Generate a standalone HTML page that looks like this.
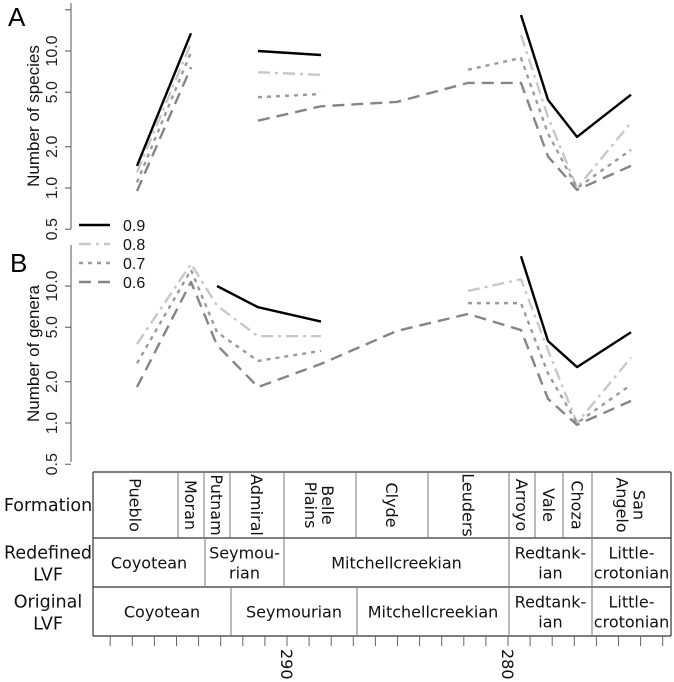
<!DOCTYPE html>
<html><head><meta charset="utf-8"><style>
html,body{margin:0;padding:0;background:#fff;}
svg{display:block;font-family:"DejaVu Sans","Liberation Sans",sans-serif;}
</style></head><body>
<svg id="chart" width="674" height="682" viewBox="0 0 674 682" xmlns="http://www.w3.org/2000/svg">
<g id="table"></g>
<g id="plots"></g>
</svg>
<script>
const formations = ["Pueblo","Moran","Putnam","Admiral","Belle Plains","Clyde","Leuders","Arroyo","Vale","Choza","San Angelo"];
const pointX = [137,191,217,258,321,397,468,521,548,577,631];
const NA = null;
const speciesS09 = [1.45,13.5,NA,10,9.35,NA,NA,18.3,4.4,2.36,4.8];
const speciesS08 = [1.3,11.4,NA,7.0,6.7,NA,NA,13.1,3.3,1.0,3.0];
const speciesS07 = [1.1,9.8,NA,4.6,4.85,NA,7.3,8.9,2.5,1.0,1.9];
const speciesS06 = [0.95,7.6,NA,3.1,3.95,4.25,5.85,5.85,1.7,0.97,1.45];
const generaS09 = [NA,NA,10,7.0,5.5,NA,NA,16.5,3.97,2.56,4.6];
const generaS08 = [3.77,14.5,7.2,4.3,4.3,NA,9.2,11.2,3.4,1.0,3.0];
const generaS07 = [2.73,13.1,4.6,2.84,3.36,NA,7.5,7.5,2.3,1.0,1.9];
const generaS06 = [1.83,10.7,3.7,1.83,2.7,4.7,6.25,4.77,1.5,0.97,1.45];
const yTicks = [0.5,1.0,2.0,5.0,10.0];
const yTickLabels = ["0.5","1.0","2.0","5.0","10.0"];
const timeTickLabels = ["290","280"];
const timeTickValues = [290,280];

const NS="http://www.w3.org/2000/svg";
function mk(tag,attrs,parent,txt){const e=document.createElementNS(NS,tag);for(const k in attrs)e.setAttribute(k,attrs[k]);if(txt!==undefined)e.textContent=txt;parent.appendChild(e);return e;}
const plots=document.getElementById('plots');
const table=document.getElementById('table');
const axisX=71;
function yScale(ref10){return v=>ref10-(Math.log10(v)-1)*137;}
const panels=[
 {name:'species',ref:51,top:3,bottom:229,topTick:20,label:'A',lx:8,ly:26,title:'Number of species',series:[speciesS09,speciesS08,speciesS07,speciesS06]},
 {name:'genera',ref:286,top:245,bottom:462,topTick:null,label:'B',lx:10,ly:272,title:'Number of genera',series:[generaS09,generaS08,generaS07,generaS06]}
];
const styles=[
 {c:'#000',d:'',w:2.4,n:'0.9'},
 {c:'#c8c8c8',d:'12,5,3,5',w:2.4,n:'0.8'},
 {c:'#9a9a9a',d:'4,5',w:2.4,n:'0.7'},
 {c:'#858585',d:'12,7',w:2.4,n:'0.6'}
];
panels.forEach(p=>{
 const y=yScale(p.ref);
 const g=mk('g',{},plots);
 
 
 const ax=mk('line',{x1:axisX,x2:axisX,y1:p.top,y2:p.bottom,stroke:'#555','stroke-width':1},g);
 
 
 const tvals=yTicks.slice(); if(p.topTick)tvals.push(p.topTick);
 tvals.forEach((t,i)=>{
  const ty=y(t);
  const tk=mk('line',{x1:axisX-6,x2:axisX,y1:ty,y2:ty,stroke:'#555','stroke-width':1},g);
  
  
  if(i<yTickLabels.length){
   const tl=mk('text',{x:0,y:0,transform:`translate(57,${ty}) rotate(-90)`,'text-anchor':'middle','font-size':16,fill:'#222','font-family':'Liberation Sans, sans-serif'},g,yTickLabels[i]);
   
   
  }
 });
 const tt=mk('text',{x:0,y:0,transform:`translate(39,${(p.top+p.bottom)/2}) rotate(-90)`,'text-anchor':'middle','font-size':17,fill:'#111','font-family':'Liberation Sans, sans-serif'},g,p.title);
 
 
 const pl=mk('text',{x:p.lx,y:p.ly,'font-size':26,fill:'#000','font-family':'Liberation Sans, sans-serif'},g,p.label);
 
 
 p.series.forEach((s,si)=>{
  let segs=[],cur=[];
  s.forEach((v,i)=>{if(v===null){if(cur.length)segs.push(cur);cur=[];}else cur.push([pointX[i],y(v)]);});
  if(cur.length)segs.push(cur);
  segs.forEach(seg=>{
   if(seg.length<2)return;
   const st=styles[si];
   const pth=mk('polyline',{points:seg.map(q=>q.join(',')).join(' '),fill:'none',stroke:st.c,'stroke-width':st.w,'stroke-dasharray':st.d,'stroke-linejoin':'round'},g);
   
   
  });
 });
});
// legend
const lg=mk('g',{},plots);


styles.forEach((st,i)=>{
 const ly=225+i*19;
 const ln=mk('line',{x1:79,x2:110,y1:ly,y2:ly,stroke:st.c,'stroke-width':st.w,'stroke-dasharray':st.d},lg);
 
 
 const lt=mk('text',{x:123,y:ly+6,'font-size':16,fill:'#111','font-family':'Liberation Sans, sans-serif'},lg,st.n);
 
 
});
// table
const L=93,R=671,T1=472,T2=538,T3=587,T4=636;
const rowLines=[T1,T2,T3,T4];
rowLines.forEach(ry=>{const l=mk('line',{x1:L,x2:R,y1:ry,y2:ry,stroke:'#333','stroke-width':1.2},table);});
[L,R].forEach(x=>{const l=mk('line',{x1:x,x2:x,y1:T1,y2:T4,stroke:'#333','stroke-width':1.2},table);});
const fBounds=[93,178,204,230,284,356,428,509,535,563,592,671];
fBounds.slice(1,-1).forEach(x=>{const l=mk('line',{x1:x,x2:x,y1:T1,y2:T2,stroke:'#777','stroke-width':1},table);});
formations.forEach((f,i)=>{
 const cx=(fBounds[i]+fBounds[i+1])/2, cy=(T1+T2)/2;
 const parts=f.split(' ');
 parts.forEach((pt,j)=>{
  const off=parts.length===1?-6:(j===0?2:-15);
  const t=mk('text',{x:0,y:0,transform:`translate(${cx+off},${cy}) rotate(90)`,'text-anchor':'middle','font-size':16,fill:'#111'},table,pt);
  
  
 });
});
function rowCells(bounds,labels,y0,y1,rname){
 bounds.slice(1,-1).forEach(x=>{const l=mk('line',{x1:x,x2:x,y1:y0,y2:y1,stroke:'#777','stroke-width':1},table);});
 labels.forEach((lb,i)=>{
  const cx=(bounds[i]+bounds[i+1])/2, cy=(y0+y1)/2;
  const lines=lb.split('|');
  lines.forEach((ln,j)=>{
   const yy=lines.length===1?cy+6:cy-4+j*20;
   const t=mk('text',{x:cx,y:yy,'text-anchor':'middle','font-size':16,fill:'#111'},table,ln);
   
   
  });
 });
}
rowCells([93,205,284,509,592,671],["Coyotean","Seymou-|rian","Mitchellcreekian","Redtank-|ian","Little-|crotonian"],T2,T3,'redefined-lvf');
rowCells([93,231,357,509,592,671],["Coyotean","Seymourian","Mitchellcreekian","Redtank-|ian","Little-|crotonian"],T3,T4,'original-lvf');
[["Formation"],["Redefined","LVF"],["Original","LVF"]].forEach((lab,i)=>{
 const cy=[(T1+T2)/2,(T2+T3)/2,(T3+T4)/2][i];
 lab.forEach((ln,j)=>{
  const yy=lab.length===1?cy+6:cy-4+j*22;
  const t=mk('text',{x:48,y:yy,'text-anchor':'middle','font-size':17.5,fill:'#111'},table,ln);
  
  
 });
});
// time axis
const tScale=v=>287+(290-v)*22.1;
for(let v=298;v>=273;v--){
 const x=tScale(v); if(x<L+5||x>R)continue;
 const l=mk('line',{x1:x,x2:x,y1:T4,y2:T4+10,stroke:'#666','stroke-width':1},table);
 
 
}
timeTickValues.forEach((v,i)=>{
 const t=mk('text',{x:0,y:0,transform:`translate(${tScale(v)-6},649) rotate(90)`,'font-size':16,fill:'#111'},table,timeTickLabels[i]);
 
 
});
</script>
</body></html>
